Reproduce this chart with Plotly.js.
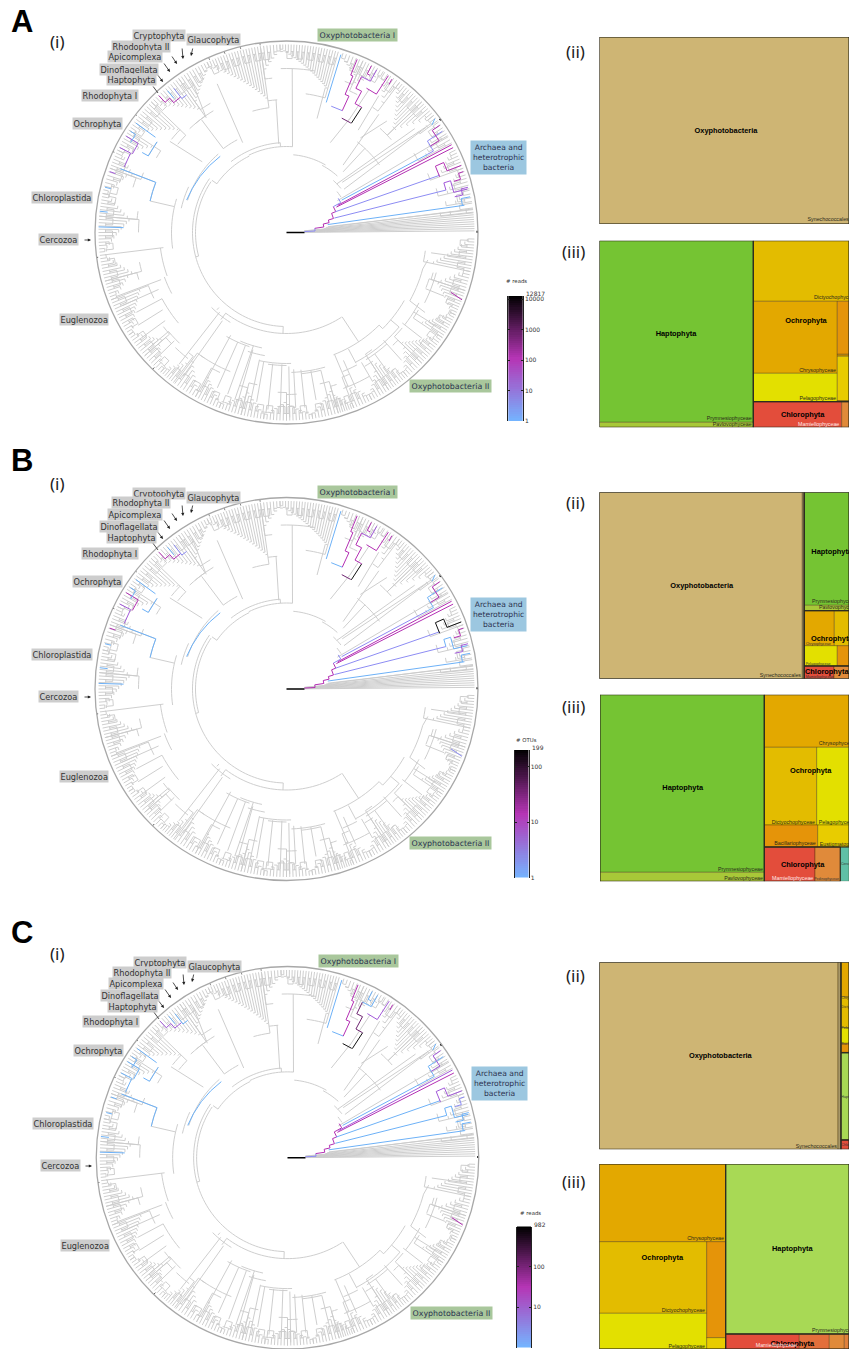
<!DOCTYPE html>
<html><head><meta charset="utf-8">
<script src="https://cdn.plot.ly/plotly-3.0.1.min.js"></script>
<style>html,body{margin:0;padding:0;background:#fff;overflow:hidden}#g{width:849px;height:1349px}</style>
</head><body><div id="g"></div>
<script>
/* ---------- TREE (theta in degrees, r = depth) ---------- */
const tipDepth = 188;
const fanAngles = [0.5,1.2,1.9,2.6,3.3,4,4.7,5.4];
const clades = [[6,9,165,3,1],[9.5,13,172,4,1],[13.5,20,166,7,1],[20,26,163,7,1],[28.5,36,160,8,1],[36.5,38.5,176,3,1],
[38.5,44,150,7,-1],[44,53,150,11,1],[53,58.5,162,6,1],[59,66,165,8,-1],[66,72.5,172,7,1],[74,92,150,22,1],[92,98,165,7,-1],
[98,115,136,20,1],[115,125,160,11,-1],[125,136,152,12,1],[136,147,150,12,1],[147,154,160,8,1],[154,160,165,7,-1],[160,168,170,8,1],
[168,175,160,8,-1],[175,186,158,12,1],[187,195,160,9,-1],[195,201,165,7,1],[201,213,158,13,1],[213,221,165,9,-1],[221,228,170,8,1],
[228,233,165,7,-1],[233.5,241,160,8,1],[241,249,165,9,1],[249,256,170,8,-1],[256,263,165,8,1],[263,270,170,8,-1],[270,278,172,9,1],
[278,286,165,9,-1],[286,291,170,8,1],[291,297,165,7,1],[297,303,165,7,-1],[303,310,155,9,1],[310,316,165,7,-1],[316,326,160,12,1],
[326,334,163,10,1],[334,342,160,10,-1],[342,348,162,7,1],[348,358,150,12,1]];
const links = [[47,83,47,115],[42,75,37,181],[44,70,39,165],[50,88,52,150],[55,125,56,165],[52,120,48,150],[61,128,60,165],
[86,86,88,164],[95,89,94.5,133],[116,100,115,164],[127,105,127,141],[125,140,122,178],[159,141,159,178],[167,115,167,140],
[187,124,187,183],[200.6,134,200.6,182],[230,104,230.8,170],[234,109,234.3,177],[241.5,117,241.5,177],[253.7,118,252.8,175],
[260,131,260,172],[271,134,271,185],[273,137,273,175],[303.4,101,303.4,131],[291.5,131,291.8,166],[315,131,315,136],[298,132,298,148],
[320,136,320,147],[345,141,349,144],[331,141,330,160],[268,94,268,101],[195,91,195,94],[145,85,145,91],[94,90,94,86],[140,110,142,148],
[8,42,7,188],[6.2,38,6.2,188],[7.2,40,7.2,188],[32,60,31,188],[37,72,37,175],[64,100,61,130],[75,118,75,150],[233,101,233,109],[228,101,228,104],
[204,140,204,180],[208,141,208,170],[212,146,212,175],[216,150,216,178],[220,154,220,180],[224,156,224,182],
[246,120,246,170],[250,120,250,172],[254,122,254,176],[258,130,258,172],[264,132,264,178],[268,132,268,180],[276,138,276,176],[280,140,280,170],[284,142,284,170],
[294,140,294,170],[300,150,300,172],[306,150,306,175],[312,145,312,172],[322,147,322,172],[328,150,328,176],[338,150,338,170],[352,146,352,176]];
const arcs = [[233,303,101],[145,268,94],[146,195,91],[116,145,85],[86,116,86],[94,128,90],[60,85,78],[48,62,76],[39,48,70],[33,39,65],
[36,52,115],[291,315,131],[315,330,136],[331,345,141],[298,320,147],[225,238,106],[235,248,150],[226,232,160],[258,272,131],[247,258,118],
[272,286,140],[290,300,166],[187,200,127],[200,208,130],[208,220,141],[220,226,154],[163,188,115],[155,167,108],[131,162,104],[121,133,142],
[159,167,140],[145,151,158],[118,127,105],[136,141,148],[94,98,133],[80,92,164],[240,252,120],[252,260,125],[262,270,133],[276,284,142],[292,298,150],[302,312,150],[322,332,150],[333,345,155]];
const rimTicks = [[0.2,190,200,'#000',2],[36.3,190,200,'#000',2],[225.6,189,200,'#555',1],[142,190,198,'#777',1],[155,190,198,'#555',1],[187.5,190,198,'#555',1],[98,189,194,'#888',1],[104,189,194,'#888',1],[109,189,194,'#888',1],[114,189,194,'#888',1]];

const branchPaths = [
[[162,105],[155,104],[147,103],[139,102],[131,101]],[[167,140],[163,140],[159,140],[159,178]],[[144,186],[144,162]],[[145,158],[151,158],[151,165]],
[[161,187],[161,181]],[[149,187],[149,173],[153,173]],[[153,187],[153,175],[158,175]],[[147,186],[147,180],[150,180]],
[[133,187],[133,178],[131,178],[131,172],[128,172]],[[130,185],[130,175]],[[128,183],[128,170],[126,170]],[[166,187],[166,181]],[[173.5,188],[173.5,180]],[[178.3,188],[178.3,163]],
[[3,18],[3,28.6],[8.4,28.6]],[[8.4,28.6],[8.4,37.7],[13,37.7],[13,43.7],[16.6,43.7]],[[16.6,43.7],[16.6,49],[23,49],[23,53.5],[28.9,53.5]],[[28.9,53.5],[28.9,62],[33.4,62]],
[[10.9,42],[8.7,180]],[[16.8,50],[14.9,165]],[[23,53],[20.5,163]],[[27,56],[27,187]],[[28,58],[28,187]],[[30.4,64],[29,161]],
[[29,161],[29,168],[33,168],[33,186]],[[31,168],[31,178],[35,178],[35,187]],[[20,163],[24,163],[24,172],[21,172],[21,187]],[[17,175],[17,182],[19,182],[19,187]],[[14.9,165],[17.5,165],[17.5,172],[13.5,172],[13.5,186]],[[12,172],[12,180],[14,180],[14,187]],[[8.7,178],[11,178],[11,187]],[[36.5,181],[37.5,187]],
[[73,136],[73,186]],[[70.5,134],[65.4,134]],[[65.4,134],[65.4,150],[67,150],[67,170],[67.8,170],[67.8,187]],[[64.2,127],[59.6,127]],[[59.3,127],[59,146]],[[59,146],[62,146],[62,160],[64.3,160],[64.3,173]],
[[64.3,173],[61,173],[61,186]],[[61,165],[57,165],[57,187]],[[55.5,186],[55.3,180]],[[62,178],[63,178],[63,187]],[[340,175],[339,188]]];
const BL='#6db1f7',LV='#8d8cf3',VI='#a259d9',MG='#b32fb3',PL='#6d2470',BK='#111111';
const branchColoursA=[BL,BL,BL,BL,VI,VI,VI,BL,MG,BL,LV,BL,BL,BL,LV,MG,MG,LV,BL,LV,LV,MG,MG,BL,LV,MG,MG,MG,VI,VI,BL,BL,BL,LV,MG,PL,BK,MG,VI,MG,MG,MG,MG];
const branchColoursB=[BL,BL,BL,BL,MG,MG,VI,BL,MG,BL,LV,BL,BL,BL,MG,MG,MG,LV,BL,LV,LV,MG,MG,LV,BL,MG,BK,MG,BL,VI,BL,BL,BL,BL,MG,PL,BK,MG,VI,MG,MG,MG,LV];
const branchColoursC=[BL,BL,BL,BL,BL,BL,BL,BL,VI,BL,BL,BL,BL,BL,LV,MG,MG,MG,BL,BL,BL,MG,VI,BL,BL,VI,VI,LV,BL,BL,BL,BL,BL,BL,MG,BK,BK,PL,BL,VI,MG,BL,MG];

/* ---------- TREEMAPS: [x0,x1,y0,y1,fill] in map units ---------- */
const TAN='#CEB574',GR='#75C433',LG='#A8D955',PA='#A8C838',CH='#E3A800',DI='#E3BC00',PE='#E3E000',BA='#E59409',EU='#E8CC00',RD='#E34D3B',OR='#E08A3A';
const cellsA2=[[0,249.5,0,187,TAN]];
const cellsA3=[[0,153.8,0,181.6,GR],[0,153.8,181.6,186.6,PA],[153.8,249.5,0,60.6,DI],[153.8,237.8,60.6,132.6,CH],[153.8,237.8,132.6,161,PE],[237.8,249.5,60.6,113.6,BA],[237.8,249.5,113.6,115.6,'#C89000'],[237.8,249.5,115.6,159.8,EU],[237.8,249.5,159.8,161,'#C8A000'],[153.8,242.2,161,186.6,RD],[242.2,249.5,161,186.6,OR]];
const cellsB2=[[0,203,0,186.4,TAN],[203,205,0,186.4,'#8a7a50'],[205,249.7,0,113,GR],[205,249.7,113,118.4,PA],[205,235,118.4,153.4,CH],[235,249.7,118.4,153.4,DI],[205,238,153.4,173.7,PE],[238,249.7,153.4,173.7,BA],[205,234.7,173.7,186.4,RD],[234.7,249.7,173.7,186.4,OR]];
const cellsB3=[[0,164.3,0,177.6,GR],[0,164.3,177.6,186.6,PA],[164.3,249,0,52.6,CH],[164.3,216.7,52.6,130.3,DI],[216.7,249,52.6,130.3,PE],[164.3,217.7,130.3,152.3,BA],[217.7,249,130.3,152.3,EU],[164.3,215,152.3,186.6,RD],[215,240.3,152.3,186.6,OR],[240.3,249,152.3,186.6,'#5FC0A6']];
const cellsC2=[[0,238.7,0,187,TAN],[238.7,241.7,0,187,'#A89868'],[241.7,249.7,0,34.4,CH],[241.7,249.7,34.4,65.4,DI],[241.7,249.7,65.4,81,PE],[241.7,249.7,81,90,BA],[241.7,249.7,90.7,177.7,LG],[241.7,249.7,177.7,187,RD]];
const cellsC3=[[0,126.4,0,77.7,CH],[0,107.4,77.7,149.3,DI],[0,107.4,149.3,185,PE],[107.4,126.4,77.7,173.7,BA],[107.4,126.4,173.7,185,EU],[126.4,249.7,0,170,LG],[126.4,200,170,185,RD],[200,230,170,185,'#E36F3B'],[230,245,170,185,OR],[245,249.7,170,185,'#E0803A']];
/* outlines of the top groups */
const groupsA3=[[0,153.8,0,186.6],[153.8,249.5,0,161],[153.8,249.5,161,186.6]];
const groupsB2=[[0,205,0,186.4],[205,249.7,0,118.4],[205,249.7,118.4,173.7],[205,249.7,173.7,186.4]];
const groupsB3=[[0,164.3,0,186.6],[164.3,249,0,152.3],[164.3,240.3,152.3,186.6]];
const groupsC2=[[0,241.7,0,187],[241.7,249.7,0,90.4],[241.7,249.7,90.4,177.7],[241.7,249.7,177.7,187]];
const groupsC3=[[0,126.4,0,185],[126.4,249.7,0,170],[126.4,249.7,170,185]];
const groupsA2=[[0,249.5,0,187]];
/* labels: [text,x,y,anchor(c|r|s),kind(b|s|w|t)] */
const labelsA2=[['Oxyphotobacteria',126.5,94,'c','b'],['Synechococcales',208,183,'s','s']];
const labelsA3=[['Haptophyta',76.5,93.3,'c','b'],['Prymnesiophyceae',152.2,178.3,'r','s'],['Pavlovophyceae',152.2,184,'r','s'],['Dictyochophyceae',214.5,57.3,'s','s'],['Ochrophyta',206.5,80.6,'c','b'],['Chrysophyceae',236.5,130,'r','s'],['Pelagophyceae',236.5,158.3,'r','s'],['Chlorophyta',203.2,174.3,'c','b'],['Mamiellophyceae',239.8,184,'r','w']];
const labelsB2=[['Oxyphotobacteria',102.4,93.4,'c','b'],['Synechococcales',201.7,183.4,'r','s'],['Haptophyta',212,59.4,'s','b'],['Prymnesiophyceae',212.7,109.7,'s','s'],['Pavlovophyceae',219.7,115.7,'s','s'],['Ochrophyta',211.7,146.7,'s','b'],['Chrysophyceae',206.4,151.4,'s','t'],['Pelagophyceae',206.4,171.4,'s','t'],['Chlorophyta',205.7,180,'s','b'],['Mamiellophyceae',206.4,184.6,'s','t']];
const labelsB3=[['Haptophyta',82.7,93.6,'c','b'],['Prymnesiophyceae',163,174.6,'r','s'],['Pavlovophyceae',163,183.6,'r','s'],['Chrysophyceae',218.7,49,'s','s'],['Dictyochophyceae',215,127.6,'r','s'],['Pelagophyceae',218.7,127.6,'s','s'],['Ochrophyta',210.7,76.3,'c','b'],['Bacillariophyceae',215.7,149,'r','s'],['Eustigmatophyceae',219.7,150.3,'s','s'],['Chlorophyta',202.7,170,'c','b'],['Mamiellophyceae',213.3,184,'r','w'],['Pedinophyceae',239,184.6,'r','t'],['Cercozoa',241,169.3,'s','t']];
const labelsC2=[['Oxyphotobacteria',121,93.7,'c','b'],['Synechococcales',237.7,184.4,'r','s'],['Chrysophyceae',242,36,'s','t'],['Dictyochophyceae',242,45,'s','t'],['Pelagophyceae',242,66,'s','t'],['Bacillariophyceae',242,82,'s','t'],['Haptophyta',242,134.5,'s','t'],['Chlorophyta',242,183,'s','t']];
const labelsC3=[['Chrysophyceae',124.7,74.3,'r','s'],['Dictyochophyceae',105.7,146.3,'r','s'],['Ochrophyta',63,94.3,'c','b'],['Pelagophyceae',105.7,183,'r','s'],['Haptophyta',193,85.3,'c','b'],['Prymnesiophyceae',212.7,166.7,'s','s'],['Chlorophyta',193,179.7,'c','b'],['Mamiellophyceae',197.7,182,'r','w']];

/* ---------- COLOUR BARS ---------- */
const barTickValuesA=[1,10,100,1000,10000], barMaxA=12817, barTitleA='# reads';
const barTickValuesB=[1,10,100], barMaxB=199, barTitleB='# OTUs';
const barTickValuesC=[1,10,100], barMaxC=982, barTitleC='# reads';
const barScale=[[0,'#74B4FF'],[0.5,'#B535B5'],[1,'#000000']];

/* ---------- TEXT ---------- */
const treeLabels=[['Cryptophyta',159,36],['Glaucophyta',213,40],['Rhodophyta II',141,46],['Apicomplexa',135,57],['Dinoflagellata',129,69],['Haptophyta',131,80],['Rhodophyta I',110,96],['Ochrophyta',97,124],['Chloroplastida',62,197],['Cercozoa',59,239],['Euglenozoa',84,319]];
const arrowsTree=[[182,47,183,59,1],[193,47,191,56,1],[171,55,177,64,1],[163,62,170,72,1],[157,74,163,82,1],[152,85,158,93,0],[83,240,91,240,1]];

/* ---------- layout geometry of the page ---------- */
const W=849,H=1349;
const panels=[
 {dy:0,dx:0,cy:232.5,cx:286.5,colours:branchColoursA,letter:'A',ly:22,iy:42,iiy:51,iiiy:252,
  m2:{x:599.5,y:37,w:249.5,h:187,c:cellsA2,g:groupsA2,l:labelsA2},m3:{x:599.5,y:240.7,w:249.5,h:186.6,c:cellsA3,g:groupsA3,l:labelsA3},
  bar:{x:508.3,y:296,w:14.4,h:125,t:barTickValuesA,max:barMaxA,title:barTitleA,tx:516,ty:281}},
 {dy:457,dx:0,cy:689,cx:286.5,colours:branchColoursB,letter:'B',ly:461,iy:483,iiy:503,iiiy:706,
  m2:{x:599.3,y:492.3,w:249.7,h:186.4,c:cellsB2,g:groupsB2,l:labelsB2},m3:{x:600,y:694.7,w:249,h:186.6,c:cellsB3,g:groupsB3,l:labelsB3},
  bar:{x:515,y:750,w:13.5,h:127.6,t:barTickValuesB,max:barMaxB,title:barTitleB,tx:526,ty:740}},
 {dy:926,dx:1,cy:1158,cx:287.5,colours:branchColoursC,letter:'C',ly:932,iy:953,iiy:975,iiiy:1181,
  m2:{x:599.3,y:962.3,w:249.7,h:187,c:cellsC2,g:groupsC2,l:labelsC2},m3:{x:599.3,y:1164,w:249.7,h:185,c:cellsC3,g:groupsC3,l:labelsC3},
  bar:{x:517,y:1226.5,w:14,h:121,t:barTickValuesC,max:barMaxC,title:barTitleC,tx:530,ty:1213}}];
const Rmax=191.5;

function treeLines(){
  const th=[],r=[];
  const seg=(t0,r0,t1,r1)=>{th.push(t0,t1,null);r.push(r0,r1,null);};
  const arc=(t0,t1,rr)=>{const n=Math.max(1,Math.ceil(Math.abs(t1-t0)/2));for(let i=0;i<=n;i++){th.push(t0+(t1-t0)*i/n);r.push(rr);}th.push(null);r.push(null);};
  fanAngles.forEach(t=>seg(t,18,t,tipDepth));
  links.forEach(l=>seg(l[0],l[1],l[2],l[3]));
  arcs.forEach(a=>arc(a[0],a[1],a[2]));
  clades.forEach(([t0,t1,r0,n,dir])=>{
    const step=(t1-t0)/(n-1),start=dir>0?t0:t1;
    seg(start,r0-10,start,r0);arc(start,start+dir*(t1-t0)*0.45,r0-10);
    for(let i=0;i<n;i++){
      const ta=start+dir*step*i,ri=r0+(tipDepth-3-r0)*Math.min(i,n-2)/(n-1);
      seg(ta,ri,ta,tipDepth);
      if(i<n-1){
        arc(ta,ta+dir*step,ri);
        if(i%2===0)arc(ta,ta+dir*step,181);
        if(i%4===0&&i<n-3){arc(ta+dir*step/2,ta+dir*step*2.5,174);seg(ta+dir*step/2,174,ta+dir*step/2,181);seg(ta+dir*step*2.5,174,ta+dir*step*2.5,181);}
      }
    }
  });
  return {th,r};
}
const tree=treeLines();
const data=[],layout={width:W,height:H,margin:{l:0,r:0,t:0,b:0,pad:0},paper_bgcolor:'#fff',plot_bgcolor:'#fff',showlegend:false,annotations:[]};
const px=x=>x/W, py=y=>1-y/H;
function note(text,x,y,o){layout.annotations.push(Object.assign({text,x:px(x),y:py(y),xref:'paper',yref:'paper',showarrow:false,xanchor:'center',yanchor:'middle'},o||{}));}
const kindFont={b:{s:7.4,c:'#000',w:700},s:{s:5.3,c:'#2a2a1a',w:400},w:{s:5.3,c:'#ffe8e8',w:400},t:{s:3.6,c:'#333',w:400}};
let axisNo=1;
function addAxes(m,extraY){
  const n=axisNo++,sfx=n===1?'':n;
  layout['xaxis'+sfx]={domain:[px(m.x),Math.min(1,px(m.x+m.w))],range:[0,m.w],visible:false,anchor:'y'+sfx,fixedrange:true};
  layout['yaxis'+sfx]=Object.assign({domain:[Math.max(0,py(m.y+m.h)),py(m.y)],range:[m.h,0],visible:false,anchor:'x'+sfx,fixedrange:true},extraY||{});
  return {xa:'x'+sfx,ya:'y'+sfx};
}
function addMap(m){
  const a=addAxes(m);
  m.c.forEach(c=>{
    data.push({type:'scatter',mode:'lines',x:[c[0],c[1],c[1],c[0],c[0]],y:[c[2],c[2],c[3],c[3],c[2]],fill:'toself',fillcolor:c[4],line:{color:'rgba(60,40,0,0.45)',width:0.8},xaxis:a.xa,yaxis:a.ya,hoverinfo:'skip'});
  });
  m.g.forEach(g=>{
    data.push({type:'scatter',mode:'lines',x:[g[0],g[1],g[1],g[0],g[0]],y:[g[2],g[2],g[3],g[3],g[2]],line:{color:'#2a2a20',width:1},xaxis:a.xa,yaxis:a.ya,hoverinfo:'skip',cliponaxis:false});
  });
  const pos={c:'middle center',r:'middle left',s:'middle right'};
  data.push({type:'scatter',mode:'text',x:m.l.map(l=>l[1]),y:m.l.map(l=>l[2]),text:m.l.map(l=>l[0]),textposition:m.l.map(l=>pos[l[3]]),
    textfont:{family:'Liberation Sans',size:m.l.map(l=>kindFont[l[4]].s),color:m.l.map(l=>kindFont[l[4]].c),weight:m.l.map(l=>kindFont[l[4]].w)},
    cliponaxis:false,xaxis:a.xa,yaxis:a.ya,hoverinfo:'skip'});
}
function addBar(b){
  const top=Math.log10(b.max),n=axisNo++,sfx=n===1?'':n;
  const levels=[];for(let i=0;i<=60;i++)levels.push(top*i/60);
  data.push({type:'heatmap',x:[0,1],y:levels,z:levels.map(v=>[v,v]),zmin:0,zmax:top,colorscale:barScale,showscale:false,xaxis:'x'+sfx,yaxis:'y'+sfx,hoverinfo:'skip'});
  layout['xaxis'+sfx]={domain:[px(b.x),px(b.x+b.w)],range:[0,1],visible:false,anchor:'y'+sfx,fixedrange:true};
  layout['yaxis'+sfx]={domain:[py(b.y+b.h),py(b.y)],range:[0,top],anchor:'x'+sfx,side:'right',tickmode:'array',tickvals:b.t.map(v=>Math.log10(v)),ticktext:b.t.map(String),
    ticks:'inside',ticklen:2,tickwidth:1,tickcolor:'#222',mirror:'ticks',showline:true,linecolor:'#222',linewidth:1,showgrid:false,zeroline:false,tickfont:{family:'DejaVu Sans',size:6,color:'#333'},fixedrange:true};
  layout.annotations.push({text:String(b.max),x:px(b.x+b.w+1.3),y:py(b.y-2.5),xref:'paper',yref:'paper',showarrow:false,xanchor:'left',yanchor:'middle',font:{family:'DejaVu Sans',size:6,color:'#333'}});
  note(b.title,b.tx,b.ty,{font:{family:'DejaVu Sans',size:5.4,color:'#333'}});
}
panels.forEach((p,idx)=>{
  const id=idx===0?'polar':'polar'+(idx+1);
  layout[id]={domain:{x:[px(p.cx-Rmax),px(p.cx+Rmax)],y:[Math.max(0,py(p.cy+Rmax)),py(p.cy-Rmax)]},bgcolor:'rgba(0,0,0,0)',
    radialaxis:{visible:false,range:[0,Rmax],showgrid:false},
    angularaxis:{visible:true,showticklabels:false,ticks:'',showgrid:false,showline:true,linecolor:'#a8a8a8',linewidth:1.3}};
  data.push({type:'scatterpolar',mode:'lines',subplot:id,theta:tree.th,r:tree.r,line:{color:'#cbcbcb',width:0.95},connectgaps:false,hoverinfo:'skip',cliponaxis:false});
  data.push({type:'scatterpolar',mode:'lines',subplot:id,theta:[0,0],r:[0,18],line:{color:'#000',width:1.3},hoverinfo:'skip'});
  branchPaths.forEach((path,i)=>{
    data.push({type:'scatterpolar',mode:'lines',subplot:id,theta:path.map(q=>q[0]),r:path.map(q=>q[1]),line:{color:p.colours[i],width:1},hoverinfo:'skip'});
  });
  rimTicks.forEach(k=>{
    data.push({type:'scatterpolar',mode:'lines',subplot:id,theta:[k[0],k[0]],r:[k[1],k[2]],line:{color:k[3],width:k[4]},hoverinfo:'skip',cliponaxis:false});
  });
  addMap(p.m2);addMap(p.m3);addBar(p.bar);
  /* text */
  note(p.letter,22,p.ly,{font:{family:'Liberation Sans',size:31,color:'#000',weight:700}});
  note('(i)',57.5,p.iy,{font:{family:'Noto Sans',size:17,color:'#222'}});
  note('(ii)',575.5,p.iiy,{font:{family:'Noto Sans',size:17,color:'#222'}});
  note('(iii)',573,p.iiiy,{font:{family:'Noto Sans',size:17,color:'#222'}});
  treeLabels.forEach(l=>note(l[0],l[1]+p.dx,l[2]+p.dy,{bgcolor:'#cdcdcd',borderpad:0.5,font:{family:'DejaVu Sans',size:8.2,color:'#333'}}));
  note('Oxyphotobacteria I',357+p.dx,35+p.dy,{bgcolor:'#a9c79c',borderpad:1.5,font:{family:'DejaVu Sans',size:7.9,color:'#2c3350'}});
  note('Oxyphotobacteria II',450+p.dx,386+p.dy-(idx===2?-1:0),{bgcolor:'#a9c79c',borderpad:1.5,font:{family:'DejaVu Sans',size:7.9,color:'#2c3350'}});
  note('Archaea and<br>heterotrophic<br>bacteria',499+p.dx,157+p.dy,{bgcolor:'#9cc7e0',borderpad:2,font:{family:'DejaVu Sans',size:7.6,color:'#2c3350'}});
  arrowsTree.forEach(a=>layout.annotations.push({text:'',x:px(a[2]+p.dx),y:py(a[3]+p.dy),xref:'paper',yref:'paper',axref:'pixel',ayref:'pixel',ax:a[0]-a[2],ay:a[1]-a[3],showarrow:true,arrowhead:a[4]?2:0,arrowsize:0.8,arrowwidth:0.8,arrowcolor:'#222'}));
});
Plotly.newPlot('g',data,layout,{staticPlot:true,displayModeBar:false});
</script></body></html>
